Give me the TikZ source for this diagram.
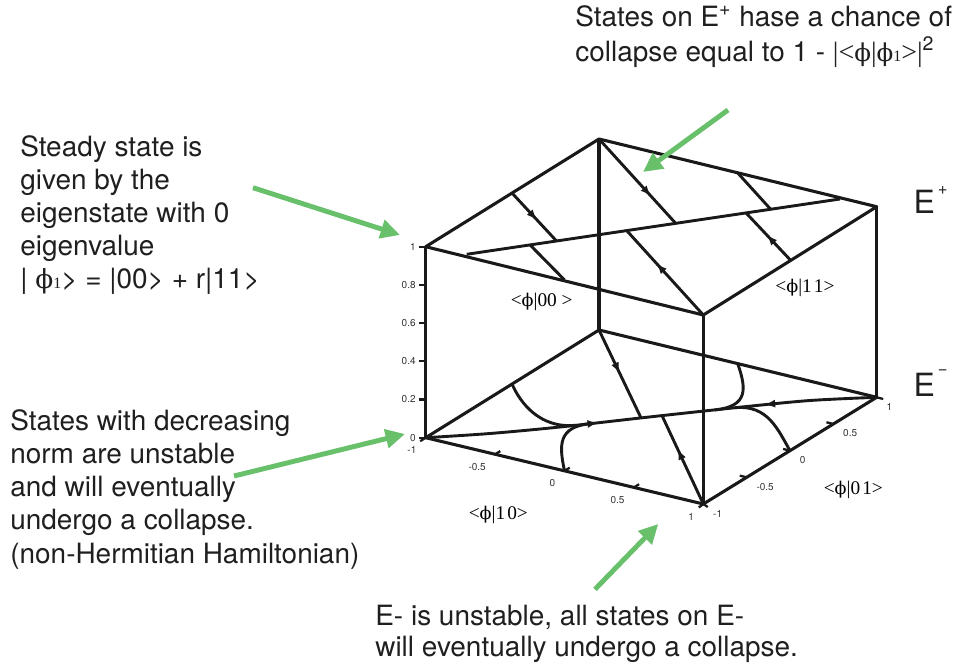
\documentclass[tikz,border=0pt]{standalone}
\usepackage{fontspec}
\setmainfont{TeX Gyre Heros}
\newfontfamily\serif{Liberation Serif}
\newfontfamily\phifont{DejaVu Serif}
\newcommand\fph{{\phifont ϕ}}
\usetikzlibrary{arrows.meta,decorations.markings}
\definecolor{grn}{RGB}{104,192,106}
\tikzset{
  edge/.style={line width=1.75pt, black!90, line join=round},
  traj/.style={line width=1.65pt, black!90},
  gar/.style={grn, line width=2.8pt, -{Triangle[length=11pt,width=10.5pt]}},
  tickmk/.style={line width=1.3pt, black!90},
  ticklab/.style={font=\fontsize{5.7pt}{6pt}\selectfont, inner sep=0pt, text=black!80},
  axlab/.style={font=\serif\fontsize{11pt}{12pt}\selectfont, inner sep=0pt},
  txt/.style={font=\fontsize{15.9pt}{18.6pt}\selectfont, inner sep=0pt, anchor=base west, text=black!88},
  midarrow/.style={postaction={decorate}, decoration={markings,
     mark=at position #1 with {\arrow{Latex[length=6pt,width=4.6pt]}}}},
  diagarrows/.style={postaction={decorate}, decoration={markings,
     mark=at position 0.382 with {\arrow{Latex[length=6pt,width=4.6pt]}},
     mark=at position 0.752 with {\arrowreversed{Latex[length=6pt,width=4.6pt]}}}},
}
\begin{document}
\begin{tikzpicture}[x=0.02cm,y=-0.02cm]
\useasboundingbox (0,0) rectangle (955,668);

% cube vertices
\coordinate (L1) at (425.7,246.7);
\coordinate (B1) at (599,139);
\coordinate (R1) at (876.7,206.7);
\coordinate (F1) at (703.3,315);
\coordinate (L0) at (425.7,437.7);
\coordinate (B0) at (599,330);
\coordinate (R0) at (876.7,397.3);
\coordinate (F0) at (703.3,504);

\draw[edge] (L1) -- (B1) -- (R1) -- (F1) -- cycle;
\draw[edge] (L0) -- (B0) -- (R0) -- (F0) -- cycle;
\foreach \v in {L,B,R,F} \draw[edge] (\v1) -- (\v0);

% ---- top face (E+) ----
\coordinate (tA) at (466.7,254.3);
\coordinate (tB) at (840,199);
\draw[traj] (tA) -- (tB);
\coordinate (s1a) at (511.7,192.7);  \coordinate (s1b) at (556.5,241);
\coordinate (s2a) at (564.5,279.9);  \coordinate (s2b) at (530,244.9);
\coordinate (s3b) at (675.7,223.35);
\coordinate (s4b) at (626.7,230.6);
\coordinate (s5a) at (737.9,173.2);  \coordinate (s5b) at (770.7,209.3);
\coordinate (s6a) at (790,259.65);   \coordinate (s6b) at (746,212.9);
\draw[traj,midarrow=0.565] (s1a) -- (s1b);
\draw[traj] (s2a) -- (s2b);
\draw[traj,midarrow=0.676] (B1) -- (s3b);
\draw[traj,midarrow=0.61] (F1) -- (s4b);
\draw[traj] (s5a) -- (s5b);
\draw[traj,midarrow=0.527] (s6a) -- (s6b);

% ---- bottom face (E-) ----
\coordinate (d1) at (490,433.5);
\coordinate (d2) at (560,427);
\coordinate (d3) at (651,416.8);
\coordinate (d4) at (742,407);
\coordinate (d5) at (810,400.5);
\draw[traj,diagarrows] plot[smooth] coordinates {(L0) (d1) (d2) (d3) (d4) (d5) (R0)};

\coordinate (ba) at (511.7,383.3);  \coordinate (bae) at (575,425.3);
\draw[traj] (ba) .. controls (520,403) and (540,428.6) .. (bae);
\coordinate (bb) at (564.5,470.85); \coordinate (bbe) at (590,423.6);
\draw[traj] (bb) .. controls (559,445) and (558,427.2) .. (bbe);
\coordinate (bd) at (737.9,364.15); \coordinate (bde) at (715,409.9);
\draw[traj] (bd) .. controls (746,388) and (749,406.3) .. (bde);
\coordinate (be) at (790,450.65);   \coordinate (bee) at (735,407.7);
\draw[traj] (be) .. controls (778,430) and (768,404.5) .. (bee);
\coordinate (bc) at (641,417.9);
\draw[traj,midarrow=0.49] (B0) -- (bc);
\coordinate (bf) at (662,415.6);
\draw[traj,midarrow=0.62] (F0) -- (bf);

% ---- vertical axis ----
\foreach \z/\t [count=\i] in {0/0,0.2/0.2,0.4/0.4,0.6/0.6,0.8/0.8,1/1}{
  \coordinate (zt\i) at (425.7,{437.7-191*\z});
  \draw[tickmk] (zt\i) -- ++(-6.5,0);
  \node[ticklab,anchor=east] (zl\i) at (416,{437.7-191*\z}) {\t};
}
% ---- <phi|10> axis ----
\foreach \x/\t [count=\i] in {-1/-1,-0.5/-0.5,0/0,0.5/0.5,1/1}{
  \coordinate (xt\i) at ({651.2+138.8*\x-86.7},{417.5+33.15*\x+53.35});
  \node[ticklab,anchor=east] (xl\i) at ({651.2+138.8*\x-86.7-9},{417.5+33.15*\x+53.35+12.5}) {\t};
}
\foreach \i in {2,3,4} \draw[tickmk] (xt\i) -- ++(5.2,-3.2);
% ---- <phi|01> axis ----
\foreach \y/\t [count=\i] in {-1/-1,-0.5/-0.5,0/0,0.5/0.5,1/1}{
  \coordinate (yt\i) at ({790+86.7*\y},{450.65-53.35*\y});
  \node[ticklab,anchor=west] (yl\i) at ({790+86.7*\y+9.5},{450.65-53.35*\y+9.5}) {\t};
}
\foreach \i in {2,3,4} \draw[tickmk] (yt\i) -- ++(-6.9,-1.7);
% corner stubs
\draw[tickmk] (L0) -- ++(-5.5,3.5);
\draw[tickmk] (F0) -- ++(-4.5,3.5);
\draw[tickmk] (F0) -- ++(4.5,3);
\draw[tickmk] (R0) -- ++(6.5,1.7);

% ---- axis labels ----
\node[axlab] (a00) at (541.7,301.7) {<{\fontsize{10pt}{12pt}\fph}|00 >};
\node[axlab] (a11) at (805,288.3) {<{\fontsize{10pt}{12pt}\fph}|1\kern1.2pt1>};
\node[axlab] (a10) at (498.3,515) {<{\fontsize{10pt}{12pt}\fph}|1\kern1.2pt0>};
\node[axlab] (a01) at (853.3,490) {<{\fontsize{10pt}{12pt}\fph}|0\kern1.2pt1>};

% ---- E labels ----
\node[anchor=base west, inner sep=0pt, font=\fontsize{18.2pt}{20pt}\selectfont, text=black!88] (Ep) at (913.3,213.3)
  {E\raisebox{1.15ex}{\fontsize{9.5pt}{9pt}\selectfont\,+}};
\node[anchor=base west, inner sep=0pt, font=\fontsize{18.2pt}{20pt}\selectfont, text=black!88] (Em) at (913.3,396.7)
  {E\raisebox{1.3ex}{\fontsize{9.5pt}{9pt}\selectfont\,−}};

% ---- texts ----
\node[txt] (toptext) at (575,26.7) {\fontsize{15.9pt}{18.1pt}\selectfont\begin{tabular}[t]{@{}l@{}}States on E\textsuperscript{+} hase a chance of\\
  collapse equal to 1 - {\serif|<{\fontsize{14pt}{14pt}\fph}|{\fontsize{14pt}{14pt}\fph}{\fontsize{9pt}{9pt}\selectfont 1}>|}\textsuperscript{2}\end{tabular}};

\node[txt] (steady) at (20,156.7) {\fontsize{15.9pt}{18.7pt}\selectfont\begin{tabular}[t]{@{}l@{}}Steady state is\\ given by the\\ eigenstate with 0\\ eigenvalue\\
  | {\fontsize{15pt}{15pt}\fph}{\serif\fontsize{9pt}{9pt}\selectfont 1}> = |00> + r|11>\end{tabular}};

\node[txt] (decr) at (10,430) {\fontsize{15.9pt}{18.95pt}\selectfont\begin{tabular}[t]{@{}l@{}}States with decreasing\\ norm are unstable\\ and will eventually\\
  undergo a collapse.\\ (non-Hermitian Hamiltonian)\end{tabular}};

\node[txt] (bottom) at (375,625) {\fontsize{15.9pt}{18.1pt}\selectfont\begin{tabular}[t]{@{}l@{}}E- is unstable, all states on E-\\ will eventually undergo a collapse.\end{tabular}};

% ---- green arrows ----
\coordinate (g1s) at (253,187.7); \coordinate (g1e) at (400,235);
\coordinate (g2s) at (234,476);   \coordinate (g2e) at (405,434);
\coordinate (g3s) at (728,110);   \coordinate (g3e) at (643,172);
\coordinate (g4s) at (595,589.3); \coordinate (g4e) at (658.3,524);
\draw[gar] (g1s) -- (g1e);
\draw[gar] (g2s) -- (g2e);
\draw[gar] (g3s) -- (g3e);
\draw[gar] (g4s) -- (g4e);
\end{tikzpicture}
\end{document}
